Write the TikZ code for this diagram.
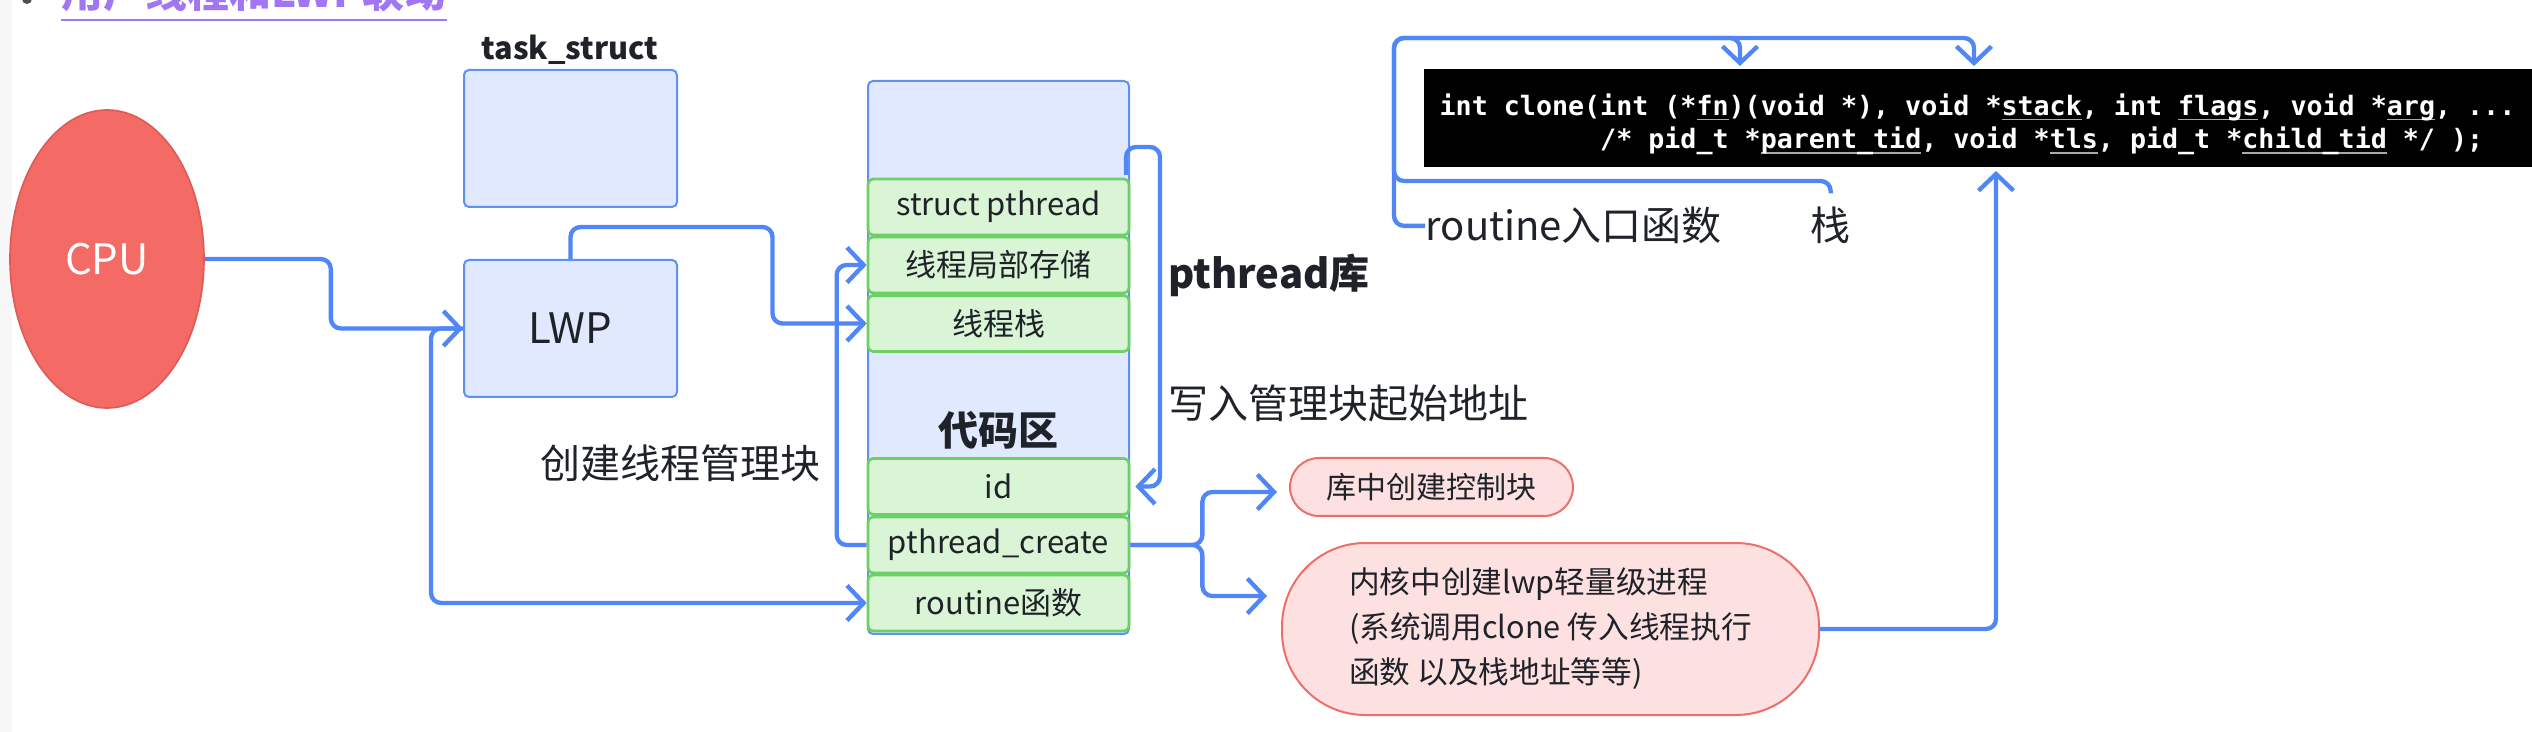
\documentclass[tikz,border=0pt]{standalone}
\usepackage{fontspec}
\setmainfont{Noto Sans CJK SC}
\newfontfamily\codefont{DejaVu Sans Mono}
\usetikzlibrary{arrows.meta,shapes.geometric,calc}
\definecolor{lblue}{RGB}{80,134,245}
\definecolor{bfill}{RGB}{224,233,253}
\definecolor{bborder}{RGB}{96,145,240}
\definecolor{gfill}{RGB}{217,245,213}
\definecolor{gborder}{RGB}{108,208,102}
\definecolor{pfill}{RGB}{253,225,225}
\definecolor{pborder}{RGB}{238,110,105}
\definecolor{cpured}{RGB}{244,106,100}
\definecolor{cpuborder}{RGB}{222,92,88}
\definecolor{tdark}{RGB}{31,35,41}
\definecolor{hpurple}{RGB}{160,118,245}
\definecolor{ulgray}{RGB}{170,170,170}
\definecolor{leftgray}{RGB}{247,247,247}
\newcommand{\codeul}[1]{\setbox0\hbox{#1}\rlap{\color{ulgray}\rule[-1.6pt]{\wd0}{0.5pt}}\box0\relax}
\begin{document}
\begin{tikzpicture}[x=0.3pt,y=-0.3pt,
  conn/.style={draw=lblue, line width=1.3pt, rounded corners=3pt, -{Straight Barb[length=5pt,width=10.5pt]}},
  bluebox/.style={draw=bborder, fill=bfill, line width=0.6pt, rounded corners=1.5pt, minimum width=63.9pt, minimum height=41.1pt, inner sep=0pt, text=tdark},
  rowbox/.style={draw=gborder, fill=gfill, line width=0.8pt, rounded corners=1.5pt, minimum width=78.3pt, minimum height=16.8pt, inner sep=0pt, text=tdark, font=\fontsize{9.3pt}{11pt}\selectfont},
  pinkbox/.style={draw=pborder, fill=pfill, line width=0.6pt, text=tdark, font=\fontsize{9.2pt}{13.5pt}\selectfont},
  lbl/.style={text=tdark, inner sep=0pt, font=\fontsize{12pt}{14pt}\selectfont},
  boldlbl/.style={text=tdark, inner sep=0pt, font=\bfseries\fontsize{11.2pt}{13pt}\selectfont}
]
\clip (0,0) rectangle (2532,732);
\fill[white] (0,0) rectangle (2532,732);
\fill[leftgray] (0,0) rectangle (12,732);

% heading (cut at top)
\fill[tdark!80] (27,-1) circle[radius=5];
\node[anchor=base west, inner sep=0pt, text=hpurple, font=\bfseries\fontsize{12.6pt}{15pt}\selectfont] (title) at (61,8) {用户线程和LWP联动};
\draw[hpurple, line width=0.7pt] ([yshift=-3.6pt]title.base west) -- ([yshift=-3.6pt]title.base east);

% CPU
\node[ellipse, fill=cpured, draw=cpuborder, line width=0.5pt, minimum width=58.2pt, minimum height=89.4pt, text=white, font=\fontsize{12.6pt}{14pt}\selectfont] (cpu) at (107,259) {CPU};

% task_struct
\node[boldlbl, font=\bfseries\fontsize{9.2pt}{11pt}\selectfont] (tslabel) at (570,50) {task\_struct};
\node[bluebox] (ts) at (570.5,138.5) {};
\node[bluebox, font=\fontsize{12.6pt}{14pt}\selectfont] (lwp) at (570.5,328.5) {LWP};

% pthread library column
\node[bluebox, minimum width=78.3pt, minimum height=165.9pt] (lib) at (998.5,357.5) {};
\node[rowbox] (sp) at (998.5,207) {struct pthread};
\node[rowbox] (tls) at (998.5,265) {线程局部存储};
\node[rowbox] (stk) at (998.5,323.5) {线程栈};
\node[boldlbl, font=\bfseries\fontsize{12pt}{14pt}\selectfont] (code) at (998.5,430) {代码区};
\node[rowbox] (id) at (998.5,486.5) {id};
\node[rowbox] (create) at (998.5,545) {pthread\_create};
\node[rowbox] (routine) at (998.5,603) {routine函数};

% labels
\node[boldlbl, anchor=base west, font=\bfseries\fontsize{12pt}{14pt}\selectfont] (plib) at (1168,289) {pthread库};
\node[lbl, anchor=base west] (wlabel) at (1168,419) {写入管理块起始地址};
\node[lbl, anchor=base west] (clabel) at (540,479) {创建线程管理块};

% right nodes
\node[pinkbox, rounded corners=8.7pt, minimum width=84.9pt, minimum height=17.4pt, font=\fontsize{9pt}{11pt}\selectfont] (ctl) at (1431.5,487) {库中创建控制块};
\node[pinkbox, rounded corners=25pt, minimum width=161.1pt, minimum height=51.6pt, align=left] (kern) at (1550.5,629) {内核中创建lwp轻量级进程\\(系统调用clone 传入线程执行\\函数 以及栈地址等等)};

% code box
\node[anchor=west, fill=black, minimum height=29.4pt, minimum width=332.7pt, inner sep=0pt] (clone) at (1423,118) {};
\node[anchor=west, text=white, inner sep=0pt, align=left, font=\codefont\bfseries\fontsize{8pt}{10pt}\selectfont] (clonetext) at (1439,124)
{int clone(int (*\codeul{fn})(void *), void *\codeul{stack}, int \codeul{flags}, void *\codeul{arg}, ...\\
\hphantom{int clone(}/* pid\_t *\codeul{parent\_tid}, void *\codeul{tls}, pid\_t *\codeul{child\_tid} */ );};

\node[lbl, anchor=base west] (rlab) at (1425,241) {routine入口函数};
\node[lbl, anchor=base west, inner ysep=4pt] (zhan) at (1810,241) {栈};

% coordinates
\coordinate (wstart) at (1126,175);
\coordinate (wtop) at (1160,147);
\coordinate (topbar) at (1394,38);
\coordinate (fnIn) at (1740,66);
\coordinate (stackIn) at (1974,66);
\coordinate (cloneIn) at (1996,171);

% connectors
\draw[conn] (cpu.east) -- ++(126,0) |- (lwp.west);
\draw[conn] (lwp.north) -- ++(0,-32) -- ++(202,0) |- (stk.west);
\draw[conn] (lwp.west) -- ++(-32,0) |- (routine.west);
\draw[conn] (create.west) -- ++(-30,0) |- (tls.west);
\draw[conn] (wstart) |- (wtop) |- ([xshift=1.5pt]id.east);
\draw[conn] (create.east) -- ++(72,0) |- ($(ctl.west)+(-12,5)$);
\draw[conn] (create.east) -- ++(72,0) |- ($(kern.west)+(-14,-33)$);
\draw[conn] (kern.east) -| (cloneIn);
\draw[conn] (rlab.west) -- ++(-31,0) |- (topbar -| fnIn) -- (fnIn);
\draw[conn] (zhan.north) |- (1394,181) |- (topbar -| stackIn) -- (stackIn);
\end{tikzpicture}
\end{document}
